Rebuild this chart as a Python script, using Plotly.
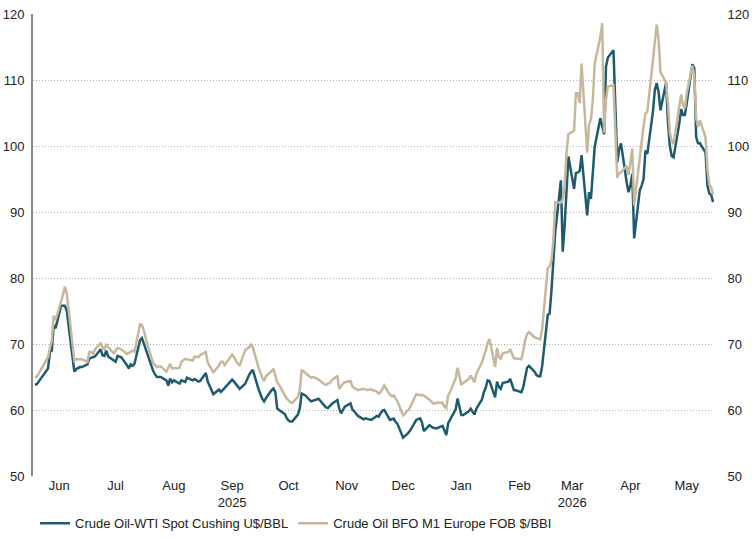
import pandas as pd
import plotly.graph_objects as go

# Business days from 2025-06-02 to 2026-05-29
dates = pd.bdate_range("2025-06-02", "2026-05-29")

wti = [
    # Jun 2025
    63.8, 63.9, 64.3, 64.7, 65.2, 66.3, 68.8, 69.0, 72.8, 72.4, 75.8, 75.8, 75.8, 75.0, 72.5,
    65.8, 66.2, 66.4, 66.5, 66.5, 66.9,
    # Jul
    67.8, 67.9, 68.0, 68.1, 69.2, 68.3, 68.2, 69.0, 68.1, 67.4, 67.3, 68.2, 68.1, 68.0, 66.8,
    66.3, 66.9, 66.7, 67.0, 70.6, 70.9, 70.1, 69.0,
    # Aug
    68.3, 65.9, 65.4, 65.0, 65.0, 65.0, 64.5, 63.7, 64.75, 64.2, 64.5, 64.0, 64.5, 64.4, 64.25,
    64.9, 64.5, 64.7, 64.5, 64.3, 64.4,
    # Sep
    65.6, 64.3, 63.6, 62.8, 62.4, 63.1, 62.75, 63.0, 63.3, 63.7, 64.6, 64.3, 63.9, 63.5, 63.2,
    64.0, 64.8, 65.3, 65.75, 66.1, 63.2, 62.3,
    # Oct
    61.7, 61.3, 61.8, 63.0, 63.25, 62.7, 60.25, 60.0, 59.4, 58.8, 58.4, 58.25, 58.25, 59.3, 60.2,
    62.5, 62.4, 62.2, 61.3, 61.4, 61.6, 61.7, 61.7,
    # Nov
    60.7, 60.4, 60.3, 60.6, 60.9, 61.5, 60.2, 59.5, 60.0, 60.5, 61.0, 60.1, 59.8, 59.5, 59.1,
    58.6, 58.75, 58.65, 58.6, 58.5,
    # Dec
    59.1, 59.0, 59.5, 59.9, 60.0, 58.5, 58.6, 58.7, 58.2, 57.9, 55.8, 56.0, 56.3, 56.6, 57.0,
    58.5, 58.6, 58.75, 58.2, 56.8, 57.7, 57.5, 57.3,
    # Jan 2026
    57.25, 57.25, 57.6, 57.0, 56.2, 58.0, 58.5, 60.1, 61.75, 60.4, 59.25, 59.25, 59.8, 60.2, 59.7,
    59.3, 60.2, 61.6, 62.7, 63.4, 64.5, 64.4,
    # Feb
    61.9, 64.3, 63.5, 63.2, 64.1, 64.3, 64.7, 64.0, 63.0, 63.0, 62.7, 63.5, 65.0, 66.4, 66.7,
    65.8, 65.3, 65.1, 65.1, 66.6,
    # Mar
    74.4, 74.6, 78.2, 82.2, 87.0, 94.8, 84.0, 88.0, 92.5, 98.4, 93.5, 95.9, 96.0, 96.2, 98.6,
    89.5, 93.0, 92.0, 96.0, 99.9, 104.2, 103.0,
    # Apr
    101.8, 112.0, 113.4, 114.5, 107.0, 97.5, 99.5, 100.4, 94.5, 93.0, 94.0, 95.8, 86.0, 93.3, 94.0,
    95.0, 99.3, 98.8, 105.2, 108.5, 109.5, 108.2,
    # May
    105.4, 109.6, 103.5, 100.0, 98.5, 98.3, 103.4, 105.6, 104.7, 104.7, 106.5, 112.4, 111.8, 101.4, 100.4,
    100.4, 99.0, 94.0, 92.8, 92.6, 91.5,
]

brent = [
    # Jun 2025
    65.1, 65.0, 65.5, 66.0, 66.4, 68.0, 69.4, 70.5, 74.3, 73.6, 76.5, 77.5, 78.7, 77.6, 75.0,
    67.5, 67.7, 67.7, 67.7, 67.7, 67.3,
    # Jul
    68.8, 68.8, 68.5, 69.2, 70.1, 69.5, 69.2, 70.0, 69.5, 68.6, 69.0, 69.4, 69.3, 69.2, 68.5,
    68.6, 68.8, 69.0, 68.8, 73.0, 72.9, 72.0, 70.8,
    # Aug
    69.8, 67.1, 66.8, 66.5, 66.6, 66.6, 65.8, 66.3, 67.0, 66.3, 66.3, 66.4, 67.3, 67.6, 67.75,
    67.7, 67.5, 68.1, 68.1, 68.0, 68.3,
    # Sep
    68.8, 67.2, 66.6, 66.2, 65.7, 66.75, 67.3, 67.3, 66.8, 67.2, 68.4, 68.0, 67.4, 67.0, 66.75,
    69.1, 69.3, 69.5, 69.9, 69.5, 66.5, 65.5,
    # Oct
    64.9, 64.4, 65.1, 65.9, 66.25, 65.2, 64.2, 63.8, 62.2, 61.75, 61.5, 61.2, 61.1, 62.0, 63.0,
    66.0, 65.9, 65.6, 64.9, 65.0, 64.9, 64.8, 64.6,
    # Nov
    63.9, 63.8, 64.0, 64.1, 64.5, 65.2, 63.2, 63.6, 64.0, 64.2, 64.4, 63.6, 63.3, 63.2, 63.0,
    63.2, 63.1, 63.0, 63.1, 63.1,
    # Dec
    62.8, 62.5, 62.7, 63.2, 63.7, 62.3, 62.1, 62.2, 61.7, 61.3, 59.2, 59.4, 59.8, 60.0, 60.6,
    62.4, 62.3, 62.25, 62.25, 62.2, 61.55, 61.3, 61.0,
    # Jan 2026
    61.0, 61.1, 61.1, 60.5, 60.3, 62.25, 62.7, 64.8, 66.4, 65.0, 63.8, 64.1, 64.7, 65.2, 64.6,
    64.2, 65.5, 67.2, 68.2, 69.0, 70.2, 70.75,
    # Feb
    66.5, 69.4, 68.0, 67.8, 68.6, 68.8, 69.2, 68.5, 67.8, 67.8, 67.7, 69.0, 70.6, 71.5, 71.8,
    71.0, 70.9, 70.9, 70.7, 72.2,
    # Mar
    81.5, 81.7, 82.7, 85.8, 91.5, 91.4, 92.0, 94.0, 99.0, 101.8, 102.3, 108.0, 108.0, 106.5, 112.5,
    99.0, 103.2, 104.0, 107.0, 112.5, 116.5, 118.6,
    # Apr
    102.0, 107.0, 109.0, 109.2, 102.0, 95.2, 95.9, 96.0, 97.0, 95.6, 97.5, 99.6, 91.0, 98.5, 100.5,
    103.0, 104.9, 105.2, 113.0, 116.0, 118.4, 116.2,
    # May
    111.2, 109.6, 106.5, 102.0, 100.7, 100.3, 106.0, 107.8, 106.2, 105.7, 108.0, 112.2, 110.5, 104.2, 102.9,
    103.9, 101.3, 96.5, 94.2, 93.7, 92.6,
]

tick_dates = ["2025-06-15", "2025-07-15", "2025-08-15", "2025-09-15", "2025-10-15", "2025-11-15",
              "2025-12-15", "2026-01-15", "2026-02-15", "2026-03-15", "2026-04-15", "2026-05-15"]
tick_text = ["Jun", "Jul", "Aug", "Sep<br>2025", "Oct", "Nov", "Dec", "Jan", "Feb",
             "Mar<br>2026", "Apr", "May"]
y_ticks = [50, 60, 70, 80, 90, 100, 110, 120]

name_wti = "Crude Oil-WTI Spot Cushing U$/BBL"
name_brent = "Crude Oil BFO M1 Europe FOB $/BBI"
col_wti = "#1f5b6e"
col_brent = "#c6b89c"

assert len(wti) == len(dates) == len(brent)

fig = go.Figure()
fig.add_trace(go.Scatter(x=dates, y=wti, mode="lines", name=name_wti,
                         line=dict(color=col_wti, width=2.5)))
fig.add_trace(go.Scatter(x=dates, y=brent, mode="lines", name=name_brent,
                         line=dict(color=col_brent, width=2.5)))
fig.add_trace(go.Scatter(x=dates, y=brent, mode="lines", yaxis="y2", showlegend=False,
                         hoverinfo="skip", line=dict(width=0), opacity=0))

font = dict(family="Liberation Sans, Arial, sans-serif", size=13, color="#222222")
fig.update_layout(
    width=752, height=538,
    margin=dict(l=33, r=38, t=14, b=62, autoexpand=False),
    paper_bgcolor="white", plot_bgcolor="white",
    font=font,
    showlegend=True,
    legend=dict(orientation="h", x=0.003, xanchor="left", y=-0.07, yanchor="top",
                font=font, bgcolor="rgba(0,0,0,0)"),
    xaxis=dict(type="date", range=["2025-06-01", "2026-05-29 12:00"],
               tickvals=tick_dates, ticktext=tick_text, showgrid=False,
               showline=False, zeroline=False, ticks="", automargin=False),
    yaxis=dict(range=[50, 120], tickvals=y_ticks, showgrid=True, gridcolor="#b0b0b0",
               griddash="1px,2px", gridwidth=1, showline=True, linecolor="#888888",
               linewidth=2, zeroline=False, ticks="outside", ticklen=4,
               tickcolor="rgba(0,0,0,0)", automargin=False),
    yaxis2=dict(range=[50, 120], tickvals=y_ticks, overlaying="y", side="right",
                showgrid=False, showline=False, zeroline=False, ticks="outside",
                ticklen=10, tickcolor="rgba(0,0,0,0)", automargin=False),
)

fig.write_html("out.html")
